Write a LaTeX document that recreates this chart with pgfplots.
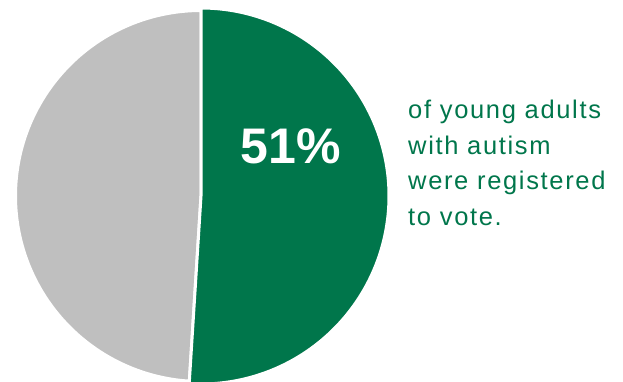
\documentclass[border=0pt]{standalone}
\usepackage{pgfplots}
\pgfplotsset{compat=1.18}
\usepackage{pgfplotstable}
\usepackage{fontspec}
\setmainfont{Liberation Sans}
\newfontfamily\spacedfont[LetterSpace=6.5]{Liberation Sans}
\definecolor{pgreen}{HTML}{00764B}
\definecolor{pgray}{HTML}{BFBFBF}
\pgfplotstableread{
label value
registered 51
other 49
}\piedata
\pgfplotstablegetelem{0}{value}\of\piedata
\let\regval\pgfplotsretval
\begin{document}
\begin{tikzpicture}
\pgfmathsetmacro{\angend}{90-3.6*\regval}
\begin{axis}[
  scale only axis, width=623pt, height=381pt,
  xmin=0, xmax=623, ymin=0, ymax=381,
  hide axis,
]
% other (grey) slice
\addplot[fill=pgray, draw=white, line width=3pt, domain=-270:\angend, samples=200, variable=\t]
  ({201+185.5*cos(t)}, {185+185.5*sin(t)}) -- (axis cs:201,185) -- cycle;
% registered (green) slice
\addplot[fill=pgreen, draw=white, line width=3pt, domain=\angend:90, samples=200, variable=\t]
  ({201+188*cos(t)}, {185+188*sin(t)}) -- (axis cs:201,185) -- cycle;
\node[text=white, font=\fontsize{50}{50}\bfseries\selectfont, anchor=base] at (axis cs:291,218) {51\%};
\node[text=pgreen, font=\spacedfont\fontsize{25.5}{35.5}\selectfont, anchor=base west, align=left, inner sep=0pt] at (axis cs:408,156)
  {of young adults\\with autism\\were registered\\to vote.};
\end{axis}
\pgfresetboundingbox
\useasboundingbox (current axis.south west) rectangle (current axis.north east);
\end{tikzpicture}
\end{document}
